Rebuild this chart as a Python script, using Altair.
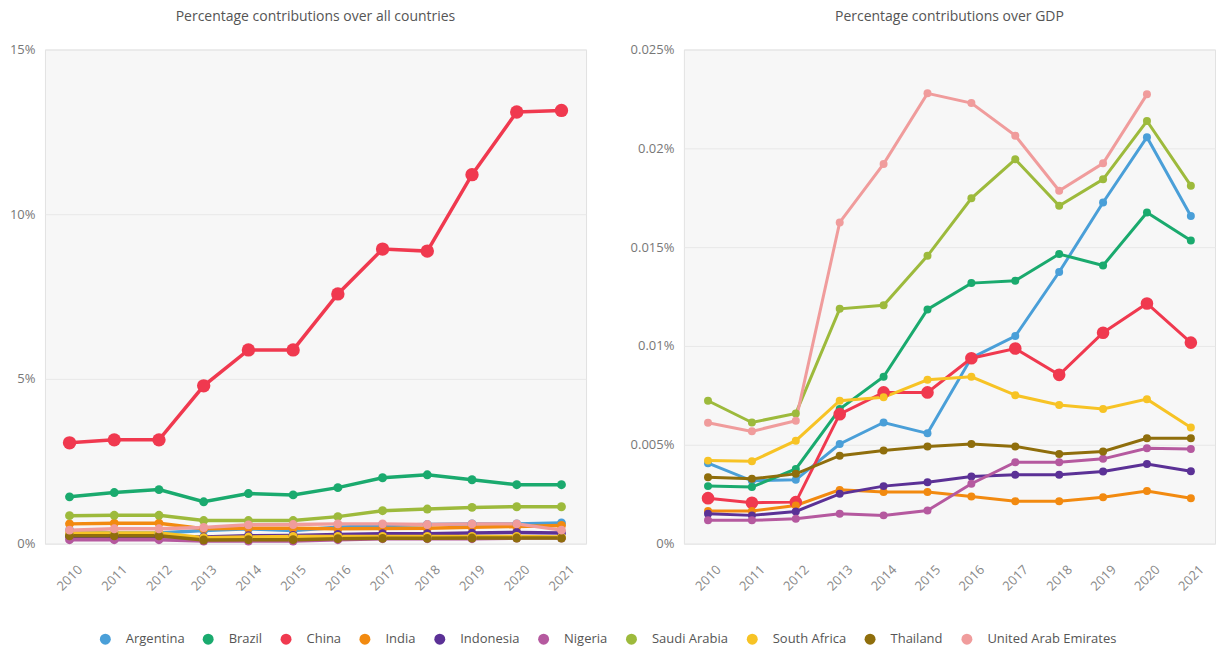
import altair as alt
import pandas as pd

years = ["2010", "2011", "2012", "2013", "2014", "2015", "2016", "2017", "2018", "2019", "2020", "2021"]
countries = ["Argentina", "Brazil", "China", "India", "Indonesia", "Nigeria",
             "Saudi Arabia", "South Africa", "Thailand", "United Arab Emirates"]
colors = ["#4a9fd8", "#1aaa6e", "#f0394f", "#f28a10", "#5b3196", "#b5599f",
          "#9dba3c", "#f7c325", "#8f6e0c", "#f09c9c"]

# Percentage contributions over all countries (%)
share_argentina = [0.40, 0.32, 0.32, 0.40, 0.45, 0.40, 0.50, 0.55, 0.58, 0.60, 0.60, 0.63]
share_brazil = [1.42, 1.55, 1.64, 1.27, 1.52, 1.48, 1.70, 2.00, 2.09, 1.94, 1.79, 1.79]
share_china = [3.06, 3.15, 3.15, 4.79, 5.88, 5.88, 7.58, 8.94, 8.88, 11.20, 13.10, 13.15]
share_india = [0.60, 0.62, 0.62, 0.45, 0.47, 0.47, 0.45, 0.46, 0.47, 0.50, 0.52, 0.55]
share_indonesia = [0.22, 0.20, 0.22, 0.20, 0.24, 0.25, 0.28, 0.30, 0.30, 0.32, 0.34, 0.32]
share_nigeria = [0.12, 0.12, 0.12, 0.08, 0.08, 0.08, 0.12, 0.15, 0.15, 0.15, 0.17, 0.17]
share_saudi = [0.85, 0.86, 0.86, 0.70, 0.70, 0.70, 0.82, 1.00, 1.05, 1.10, 1.12, 1.12]
share_south_africa = [0.32, 0.32, 0.32, 0.18, 0.20, 0.22, 0.22, 0.22, 0.22, 0.22, 0.22, 0.20]
share_thailand = [0.24, 0.24, 0.24, 0.11, 0.12, 0.12, 0.15, 0.16, 0.16, 0.17, 0.17, 0.17]
share_uae = [0.41, 0.45, 0.45, 0.49, 0.57, 0.58, 0.60, 0.60, 0.58, 0.60, 0.60, 0.41]

# Percentage contributions over GDP (%)
gdp_argentina = [0.00407, 0.00318, 0.00323, 0.00504, 0.00613, 0.00558, 0.00940, 0.01050, 0.01374, 0.01726, 0.02056, 0.01658]
gdp_brazil = [0.00291, 0.00286, 0.00378, 0.00681, 0.00844, 0.01185, 0.01318, 0.01330, 0.01465, 0.01407, 0.01675, 0.01534]
gdp_china = [0.00230, 0.00207, 0.00210, 0.00655, 0.00765, 0.00765, 0.00938, 0.00987, 0.00854, 0.01067, 0.01215, 0.01017]
gdp_india = [0.00165, 0.00165, 0.00193, 0.00272, 0.00261, 0.00261, 0.00239, 0.00215, 0.00215, 0.00235, 0.00266, 0.00230]
gdp_indonesia = [0.00151, 0.00143, 0.00163, 0.00252, 0.00291, 0.00311, 0.00340, 0.00348, 0.00348, 0.00365, 0.00403, 0.00366]
gdp_nigeria = [0.00118, 0.00118, 0.00126, 0.00151, 0.00143, 0.00168, 0.00303, 0.00412, 0.00412, 0.00429, 0.00482, 0.00479]
gdp_saudi = [0.00723, 0.00613, 0.00659, 0.01188, 0.01206, 0.01456, 0.01747, 0.01944, 0.01709, 0.01843, 0.02138, 0.01811]
gdp_south_africa = [0.00420, 0.00417, 0.00521, 0.00723, 0.00740, 0.00829, 0.00844, 0.00751, 0.00701, 0.00681, 0.00731, 0.00588]
gdp_thailand = [0.00336, 0.00328, 0.00353, 0.00445, 0.00471, 0.00492, 0.00504, 0.00492, 0.00454, 0.00466, 0.00533, 0.00533]
gdp_uae = [0.00612, 0.00568, 0.00622, 0.01625, 0.01921, 0.02278, 0.02229, 0.02064, 0.01785, 0.01924, 0.02273, None]

shares = [share_argentina, share_brazil, share_china, share_india, share_indonesia,
          share_nigeria, share_saudi, share_south_africa, share_thailand, share_uae]
gdps = [gdp_argentina, gdp_brazil, gdp_china, gdp_india, gdp_indonesia,
        gdp_nigeria, gdp_saudi, gdp_south_africa, gdp_thailand, gdp_uae]

rows = []
for c, s_list, g_list in zip(countries, shares, gdps):
    for y, s, g in zip(years, s_list, g_list):
        rows.append({"Country": c, "Year": y, "share": s, "gdp": g})
df = pd.DataFrame(rows)

FONT = "Open Sans"
color_scale = alt.Scale(domain=countries, range=colors)
legend = alt.Legend(
    orient="bottom", offset=39, direction="horizontal",
    title=" ", titleOrient="left", titlePadding=54, titleFontSize=13,
    symbolType="circle", symbolSize=120, labelFontSize=13, labelColor="#555",
    labelFont=FONT, columnPadding=17, labelOffset=14, labelLimit=300,
    symbolOpacity=1, symbolStrokeWidth=0,
)


def panel(field, title, domain, ticks, width, stroke, small, big):
    base = alt.Chart(df).encode(
        x=alt.X("Year:O", sort=years, scale=alt.Scale(type="point", padding=0.55),
                axis=alt.Axis(title=None, labelAngle=-45, labelAlign="center",
                              labelBaseline="middle", labelPadding=34, ticks=False,
                              domain=False, grid=False, labelColor="#888",
                              labelFontSize=13, labelFont=FONT)),
        y=alt.Y(f"{field}:Q", scale=alt.Scale(domain=domain),
                axis=alt.Axis(title=None, values=ticks,
                              labelExpr="format(datum.value, '~g') + '%'",
                              ticks=False, domain=False, gridColor="#e8e8e8",
                              labelColor="#777", labelFontSize=13, labelFont=FONT,
                              labelPadding=10)),
        color=alt.Color("Country:N", scale=color_scale, legend=legend),
    )
    lines = base.mark_line(strokeWidth=stroke)
    pts = base.mark_circle(opacity=1).encode(
        size=alt.condition("datum.Country == 'China'", alt.value(big), alt.value(small))
    )
    return (lines + pts).properties(
        width=width, height=495,
        title=alt.TitleParams(title, fontSize=14, font=FONT, color="#555",
                              fontWeight="normal", offset=20),
    )


left = panel("share", "Percentage contributions over all countries", [0, 15],
             [0, 5, 10, 15], 542, 3.5, 80, 180)
right = panel("gdp", "Percentage contributions over GDP", [0, 0.025],
              [0, 0.005, 0.01, 0.015, 0.02, 0.025], 532, 3, 64, 160)

chart = alt.hconcat(left, right, spacing=42).properties(padding=0).configure_view(
    fill="#f7f7f7", stroke="#e2e2e2"
)

chart.save("out.html", embed_options={"renderer": "svg", "actions": False})
